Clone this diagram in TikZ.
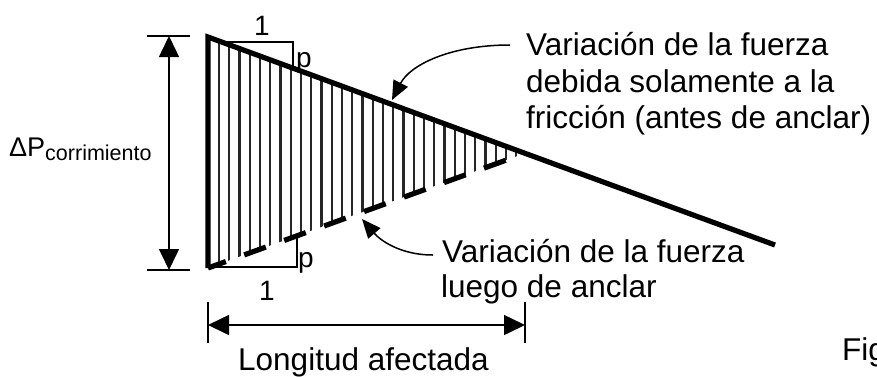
\documentclass[tikz,border=0pt]{standalone}
\usepackage{fontspec}
\setmainfont{Liberation Sans}
\usetikzlibrary{arrows.meta}
\begin{document}
\begin{tikzpicture}[x=1pt,y=-1pt,
  lbl/.style={inner sep=0pt, anchor=base west, font=\fontsize{31.5}{36}\selectfont},
  small/.style={inner sep=0pt, anchor=base, font=\fontsize{28}{30}\selectfont},
  heavy/.style={line width=5.2pt},
  thinln/.style={line width=1.5pt},
  hatchln/.style={line width=2.4pt, black!85},
  dimarrow/.style={thinln, {Triangle[length=21pt,width=20pt]}-{Triangle[length=21pt,width=20pt]}},
  callout/.style={thinln, -{Triangle[length=19pt,width=16pt]}}
]
\clip (0,0) rectangle (877,376);
% main points
\coordinate (A) at (208,37);
\coordinate (B) at (208,268);
\coordinate (C) at (775,245);
\coordinate (X) at (525,153.3);
% hatching
\begin{scope}
  \clip (A) -- (X) -- (B) -- cycle;
  \foreach \i in {0,...,30}
    \draw[hatchln] ({219+10.25*\i},30) -- ({219+10.25*\i},280);
\end{scope}
% force lines
\draw[heavy, line join=miter] (B) -- (A) -- (C);
\draw[heavy, dash pattern=on 23pt off 19.5pt, dash phase=4pt] (B) -- (X);
% slope triangles
\draw[thinln] (221,42) -- (293,42) -- (293,68);
\draw[thinln] (208,267) -- (297,267) -- (297,236);
\node[small] (one1) at (262,35) {1};
\node[small, anchor=base west] (p1) at (296,67) {p};
\node[small, anchor=base west] (p2) at (298,267) {p};
\node[small] (one2) at (267,300) {1};
% vertical dimension
\coordinate (vt) at (169,36);
\coordinate (vb) at (169,270);
\draw[thinln] (147,36) -- (190,36);
\draw[thinln] (147,270) -- (190,270);
\draw[dimarrow] (vt) -- (vb);
\node[inner sep=0pt, anchor=base west] (dp) at (9,156)
  {\fontsize{27}{27}\selectfont ΔP\raisebox{-4pt}{\fontsize{21.5}{22}\selectfont corrimiento}};
% horizontal dimension
\coordinate (hl) at (208,325);
\coordinate (hr) at (525,325);
\draw[thinln] (208,302) -- (208,343);
\draw[thinln] (525,302) -- (525,343);
\draw[dimarrow] (hl) -- (hr);
\node[lbl] (len) at (238,370) {Longitud afectada};
% labels
\node[lbl] (f1) at (526,55) {Variación de la fuerza};
\node[lbl] (f2) at (526,92) {debida solamente a la};
\node[lbl] (f3) at (526,128) {fricción (antes de anclar)};
\node[lbl] (g1) at (442,262) {Variación de la fuerza};
\node[lbl] (g2) at (441,297) {luego de anclar};
\node[lbl] (fig) at (842,360) {Fig};
% callouts
\coordinate (s1) at (510,45);
\coordinate (e1) at (392,100);
\coordinate (s2) at (433,255);
\coordinate (e2) at (362,219);
\draw[callout] (s1) .. controls (450,45) and (410,65) .. (e1);
\draw[callout] (s2) .. controls (400,255) and (380,240) .. (e2);
\end{tikzpicture}
\end{document}
